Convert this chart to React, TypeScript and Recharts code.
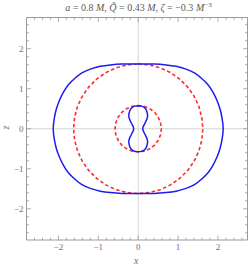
import { ReferenceLine, Scatter, ScatterChart, XAxis, YAxis } from 'recharts'

type Pt = { x: number; z: number }

// one quadrant of each curve (x >= 0, z >= 0), top -> side
const outerBlue: Pt[] = [
  { x: 0, z: 1.62 },
  { x: 0.4, z: 1.615 },
  { x: 0.7, z: 1.595 },
  { x: 0.95, z: 1.56 },
  { x: 1.2, z: 1.49 },
  { x: 1.42, z: 1.39 },
  { x: 1.6, z: 1.25 },
  { x: 1.75, z: 1.1 },
  { x: 1.87, z: 0.92 },
  { x: 1.97, z: 0.72 },
  { x: 2.05, z: 0.5 },
  { x: 2.1, z: 0.28 },
  { x: 2.13, z: 0 },
]

const innerBlue: Pt[] = [
  { x: 0, z: 0.575 },
  { x: 0.08, z: 0.565 },
  { x: 0.14, z: 0.54 },
  { x: 0.19, z: 0.49 },
  { x: 0.22, z: 0.42 },
  { x: 0.235, z: 0.34 },
  { x: 0.225, z: 0.26 },
  { x: 0.19, z: 0.18 },
  { x: 0.15, z: 0.1 },
  { x: 0.12, z: 0.04 },
  { x: 0.115, z: 0 },
]

const outerRed: Pt[] = [
  { x: 0, z: 1.62 },
  { x: 0.28, z: 1.595 },
  { x: 0.554, z: 1.522 },
  { x: 0.81, z: 1.403 },
  { x: 1.041, z: 1.241 },
  { x: 1.241, z: 1.041 },
  { x: 1.403, z: 0.81 },
  { x: 1.522, z: 0.554 },
  { x: 1.595, z: 0.28 },
  { x: 1.62, z: 0 },
]

const innerRed: Pt[] = [
  { x: 0, z: 0.58 },
  { x: 0.15, z: 0.56 },
  { x: 0.29, z: 0.502 },
  { x: 0.41, z: 0.41 },
  { x: 0.502, z: 0.29 },
  { x: 0.56, z: 0.15 },
  { x: 0.58, z: 0 },
]

const majorTicks = [-2, -1, 0, 1, 2]
const allTicks = [
  -2.6, -2.4, -2.2, -2, -1.8, -1.6, -1.4, -1.2, -1, -0.8, -0.6, -0.4, -0.2, 0,
  0.2, 0.4, 0.6, 0.8, 1, 1.2, 1.4, 1.6, 1.8, 2, 2.2, 2.4, 2.6,
]

const xDomain: [number, number] = [-2.8, 2.74]
const zDomain: [number, number] = [-2.78, 2.78]

const FRAME = '#9a9a9a'
const TEXT = '#6e6e6e'
const SERIF = '"Liberation Serif", "DejaVu Serif", serif'

// closed loop from one quadrant, using the curve's symmetry about both axes
function loop(q: Pt[]): Pt[] {
  const rev = [...q].reverse()
  return [
    ...q,
    ...rev.slice(1).map((p) => ({ x: p.x, z: -p.z })),
    ...q.slice(1).map((p) => ({ x: -p.x, z: -p.z })),
    ...rev.slice(1).map((p) => ({ x: -p.x, z: p.z })),
  ]
}

const isMajor = (v: number) => majorTicks.some((m) => Math.abs(m - v) < 1e-6)
const label = (v: number) => (v < 0 ? `\u2212${Math.abs(v)}` : `${v}`)

function BottomTick({ x, y, payload }: any) {
  const major = isMajor(payload.value)
  return (
    <g>
      <line x1={x} x2={x} y1={y} y2={y - (major ? 4.5 : 2.5)} stroke={FRAME} strokeWidth={0.8} />
      {major && (
        <text x={x} y={y + 4} dy="0.71em" textAnchor="middle" fill={TEXT} fontSize={9} fontFamily={SERIF}>
          {label(payload.value)}
        </text>
      )}
    </g>
  )
}

function LeftTick({ x, y, payload }: any) {
  const major = isMajor(payload.value)
  return (
    <g>
      <line x1={x} x2={x + (major ? 4.5 : 2.5)} y1={y} y2={y} stroke={FRAME} strokeWidth={0.8} />
      {major && (
        <text x={x - 3} y={y} dy="0.35em" textAnchor="end" fill={TEXT} fontSize={9} fontFamily={SERIF}>
          {label(payload.value)}
        </text>
      )}
    </g>
  )
}

const noDot = () => <g />

export default function App() {
  return (
    <div style={{ position: 'absolute', left: 0, top: 0, width: 249, height: 267, background: '#fff' }}>
      <div
        style={{
          position: 'absolute',
          left: 0,
          width: 277,
          top: 1,
          textAlign: 'center',
          fontFamily: SERIF,
          fontSize: 10,
          color: '#5a5a5a',
          whiteSpace: 'nowrap',
        }}
      >
        <i>a</i> = 0.8 <i>M</i>, <i>Q&#x303;</i> = 0.43 <i>M</i>, <i>ζ</i> = −0.3 <i>M</i>
        <sup style={{ fontSize: 7 }}>−3</sup>
      </div>

      <ScatterChart width={249} height={267} margin={{ top: 17.5, right: 1.5, bottom: 0, left: 0 }}>
        <XAxis
          type="number"
          dataKey="x"
          domain={xDomain}
          allowDataOverflow
          ticks={allTicks}
          interval={0}
          height={27}
          tickSize={0}
          tickMargin={0}
          tickLine={false}
          axisLine={{ stroke: FRAME }}
          tick={<BottomTick />}
        />
        <YAxis
          type="number"
          dataKey="z"
          domain={zDomain}
          allowDataOverflow
          ticks={allTicks}
          interval={0}
          width={26.5}
          tickSize={0}
          tickMargin={0}
          tickLine={false}
          axisLine={{ stroke: FRAME }}
          tick={<LeftTick />}
        />

        <ReferenceLine x={0} stroke="#d4d4d4" strokeWidth={1} />
        <ReferenceLine y={0} stroke="#d4d4d4" strokeWidth={1} />

        {/* frame top and right with inward ticks */}
        <ReferenceLine y={zDomain[1]} stroke={FRAME} />
        <ReferenceLine x={xDomain[1]} stroke={FRAME} />
        {allTicks.map((t) => (
          <ReferenceLine
            key={`t${t}`}
            segment={[
              { x: t, y: zDomain[1] },
              { x: t, y: zDomain[1] - (isMajor(t) ? 0.113 : 0.063) },
            ]}
            stroke={FRAME}
            strokeWidth={0.8}
          />
        ))}
        {allTicks.map((t) => (
          <ReferenceLine
            key={`r${t}`}
            segment={[
              { x: xDomain[1], y: t },
              { x: xDomain[1] - (isMajor(t) ? 0.113 : 0.063), y: t },
            ]}
            stroke={FRAME}
            strokeWidth={0.8}
          />
        ))}

        <Scatter
          data={loop(outerRed)}
          line={{ stroke: '#ff2a2a', strokeWidth: 1.6, strokeDasharray: '3.5 2.5' }}
          lineJointType="linear"
          shape={noDot}
          isAnimationActive={false}
        />
        <Scatter
          data={loop(innerRed)}
          line={{ stroke: '#ff2a2a', strokeWidth: 1.6, strokeDasharray: '3.5 2.5' }}
          lineJointType="linear"
          shape={noDot}
          isAnimationActive={false}
        />
        <Scatter
          data={loop(outerBlue)}
          line={{ stroke: '#1c1cf0', strokeWidth: 1.5 }}
          lineJointType="natural"
          shape={noDot}
          isAnimationActive={false}
        />
        <Scatter
          data={loop(innerBlue)}
          line={{ stroke: '#1c1cf0', strokeWidth: 1.5 }}
          lineJointType="natural"
          shape={noDot}
          isAnimationActive={false}
        />
      </ScatterChart>

      <div
        style={{
          position: 'absolute',
          left: 134,
          top: 255,
          fontFamily: SERIF,
          fontStyle: 'italic',
          fontSize: 10,
          color: TEXT,
        }}
      >
        x
      </div>
      <div
        style={{
          position: 'absolute',
          left: 4,
          top: 122,
          fontFamily: SERIF,
          fontStyle: 'italic',
          fontSize: 10,
          color: TEXT,
          transform: 'rotate(-90deg)',
        }}
      >
        z
      </div>
    </div>
  )
}
